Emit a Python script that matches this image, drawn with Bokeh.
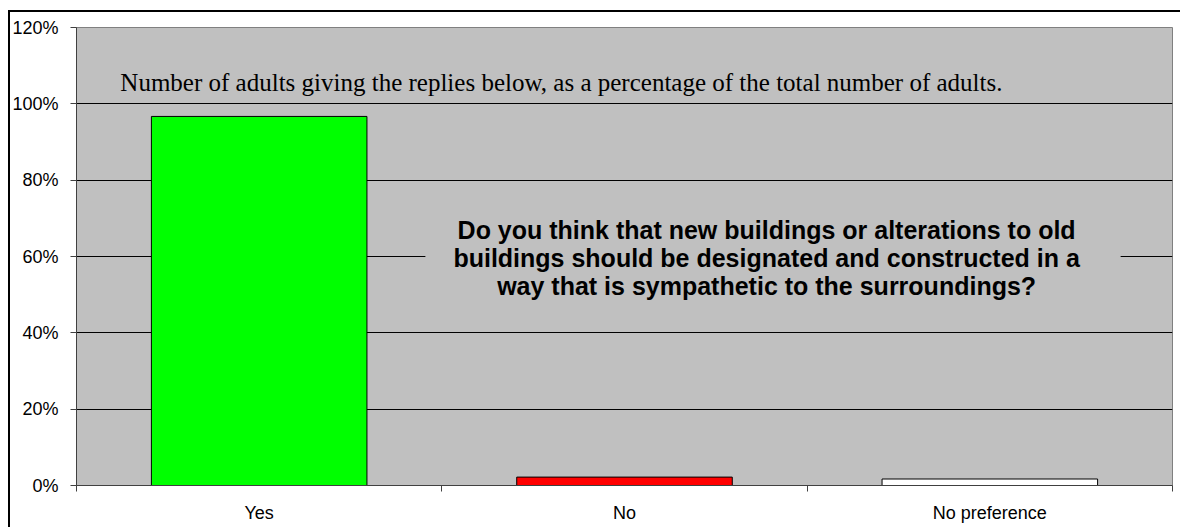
from bokeh.plotting import figure
from bokeh.models import (FixedTicker, PrintfTickFormatter, BoxAnnotation, Label, Range1d)
from bokeh.embed import file_html
from bokeh.resources import INLINE

# ---- data ----
categories = ["Yes", "No", "No preference"]
percent = [96.7, 2.2, 1.7]
bar_colors = ["#00FF00", "#FF0000", "#FFFFFF"]
y_ticks = [0, 20, 40, 60, 80, 100, 120]
subtitle = "Number of adults giving the replies below, as a percentage of the total number of adults."
question = ("Do you think that new buildings or alterations to old\n"
            "buildings should be designated and constructed in a\n"
            "way that is sympathetic to the surroundings?")

xs = [i + 0.5 for i in range(len(categories))]

p = figure(width=1180, height=527, output_backend="svg", toolbar_location=None,
           x_range=Range1d(0, len(categories)), y_range=Range1d(0, 120),
           min_border_left=76, min_border_right=8, min_border_top=27, min_border_bottom=42)

p.background_fill_color = "#C0C0C0"
p.border_fill_color = "white"
p.border_fill_alpha = 0
p.styles = {
    "background": ("linear-gradient(#000, #000) 8px 10px / 2px 100% no-repeat, "
                   "linear-gradient(#000, #000) 8px 10px / 100% 2px no-repeat, #fff"),
}
p.outline_line_color = "#808080"
p.outline_line_width = 1

p.vbar(x=xs, top=percent, width=0.59, bottom=0, fill_color=bar_colors,
       line_color="black", line_width=1)

# y axis
p.yaxis.ticker = FixedTicker(ticks=y_ticks)
p.yaxis.formatter = PrintfTickFormatter(format="%d%%")
p.yaxis.major_label_text_font = "Liberation Sans"
p.yaxis.major_label_text_font_size = "18px"
p.yaxis.major_label_text_color = "black"
p.yaxis.major_tick_out = 6
p.yaxis.major_tick_in = 0
p.yaxis.minor_tick_out = 0
p.yaxis.minor_tick_in = 0
p.yaxis.major_label_standoff = 12
p.yaxis.axis_line_color = "#404040"
p.yaxis.major_tick_line_color = "#404040"

# x axis
p.xaxis.ticker = FixedTicker(ticks=xs, minor_ticks=list(range(len(categories) + 1)))
p.xaxis.major_label_overrides = {x: c for x, c in zip(xs, categories)}
p.xaxis.major_label_text_font = "Liberation Sans"
p.xaxis.major_label_text_font_size = "18px"
p.xaxis.major_label_text_color = "black"
p.xaxis.major_tick_out = 0
p.xaxis.major_tick_in = 0
p.xaxis.minor_tick_out = 6
p.xaxis.minor_tick_in = 0
p.xaxis.major_label_standoff = 11
p.xaxis.axis_line_color = "#404040"
p.xaxis.minor_tick_line_color = "#404040"

p.xgrid.visible = False
p.ygrid.ticker = FixedTicker(ticks=y_ticks)
p.ygrid.grid_line_color = "black"
p.ygrid.grid_line_width = 1

# box hiding gridline behind the question
p.add_layout(BoxAnnotation(left=0.955, right=2.858, bottom=50, top=70,
                           fill_color="#C0C0C0", fill_alpha=1.0, line_alpha=0))

p.add_layout(Label(x=1.889, y=59.5, text=question, text_align="center",
                   text_baseline="middle", text_font="Liberation Sans",
                   text_font_style="bold", text_font_size="25px", text_color="black",
                   text_line_height=1.0))

p.add_layout(Label(x=0.12, y=105.6, text=subtitle, text_align="left",
                   text_baseline="middle", text_font="Liberation Serif",
                   text_font_size="25px", text_color="black"))

open("out.html", "w").write(file_html(p, INLINE))
